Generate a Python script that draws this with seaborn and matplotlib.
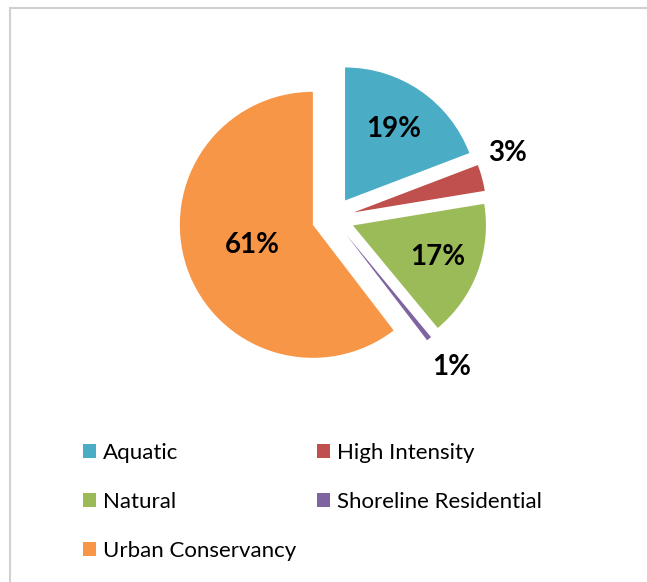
import matplotlib
matplotlib.use("Agg")
import matplotlib.pyplot as plt
import seaborn as sns
from matplotlib.patches import Rectangle, Patch
import numpy as np

# shoreline designation shares
categories = ["Aquatic", "High Intensity", "Natural", "Shoreline Residential", "Urban Conservancy"]
shares = [19.2, 3.2, 16.6, 0.6, 60.4]
pct_labels = ["19%", "3%", "17%", "1%", "61%"]
colors = ["#4BACC6", "#C0504D", "#9BBB59", "#8064A2", "#F79646"]

sns.set_theme(style="white")
plt.rcParams["font.family"] = ["Lato", "DejaVu Sans"]

W, H = 647, 582
fig = plt.figure(figsize=(W / 100, H / 100), dpi=100)

# pie axes: center at (333, 218) px, radius 133 px
r_px = 133
cx, cy = 333, 218
half = 200
ax = fig.add_axes([(cx - half) / W, (H - cy - half) / H, 2 * half / W, 2 * half / H])

wedges, _ = ax.pie(shares, colors=sns.color_palette(colors), startangle=90,
                   counterclock=False, explode=[0.16] * len(shares),
                   wedgeprops=dict(linewidth=0))
lim = half / r_px
ax.set_xlim(-lim, lim)
ax.set_ylim(-lim, lim)
ax.set_aspect("equal")
ax.axis("off")

# label distance / angle shift from each slice's own (exploded) center
dists = [0.65, 1.24, 0.68, 1.27, 0.48]
shifts = [0, 6, 0, 0, 0]
for w, lab, d, s in zip(wedges, pct_labels, dists, shifts):
    ang = np.deg2rad((w.theta1 + w.theta2) / 2 + s)
    x0, y0 = w.center
    ax.text(x0 + d * np.cos(ang), y0 + d * np.sin(ang), lab, ha="center", va="center",
            fontsize=20, fontweight="bold", color="black")

# legend, row-major like the original
order = [0, 2, 4, 1, 3]
handles = [Patch(facecolor=colors[i], edgecolor="none") for i in order]
labels = [categories[i] for i in order]
leg = fig.legend(handles, labels, loc="upper left", bbox_to_anchor=(72 / W, 1 - 432 / H),
                 ncol=2, frameon=False, fontsize=16, handlelength=0.6, handleheight=0.6,
                 handletextpad=0.3, columnspacing=0.92, labelspacing=1.3, borderpad=0)
for t in leg.get_texts():
    t.set_color("black")

# chart border
fig.patches.append(Rectangle((10 / W, -0.05), 1.1, 1 - 8 / H + 0.05, transform=fig.transFigure,
                             fill=False, edgecolor="#D0D0D0", linewidth=1.5))

fig.savefig("out.png", dpi=100)
